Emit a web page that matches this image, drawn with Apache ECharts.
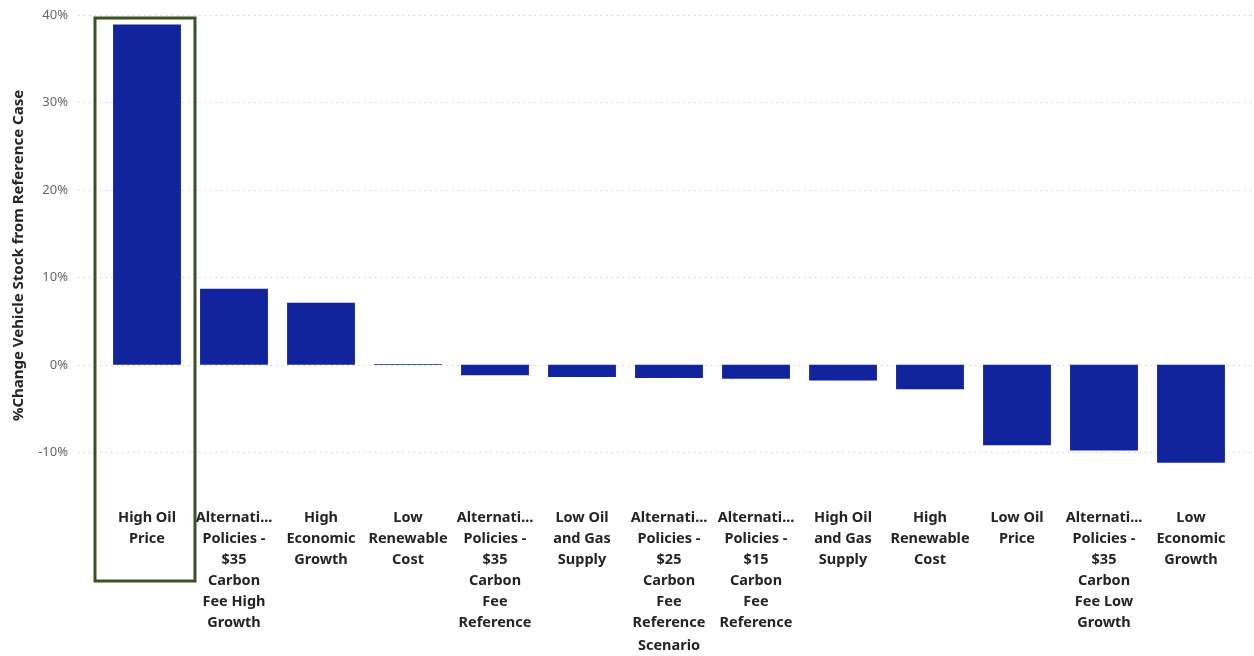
<!DOCTYPE html>
<html>
<head>
<meta charset="utf-8">
<script src="https://cdn.jsdelivr.net/npm/echarts@6/dist/echarts.min.js"></script>
<style>
  html, body { margin: 0; padding: 0; background: #fff; }
  #chart { width: 1254px; height: 656px; }
</style>
</head>
<body>
<div id="chart"></div>
<script>
// Scenario labels as they are shown (wrapped / truncated like the original)
const scenarios = [
  'High Oil\nPrice',
  'Alternati...\nPolicies -\n$35\nCarbon\nFee High\nGrowth',
  'High\nEconomic\nGrowth',
  'Low\nRenewable\nCost',
  'Alternati...\nPolicies -\n$35\nCarbon\nFee\nReference',
  'Low Oil\nand Gas\nSupply',
  'Alternati...\nPolicies -\n$25\nCarbon\nFee\nReference',
  'Alternati...\nPolicies -\n$15\nCarbon\nFee\nReference',
  'High Oil\nand Gas\nSupply',
  'High\nRenewable\nCost',
  'Low Oil\nPrice',
  'Alternati...\nPolicies -\n$35\nCarbon\nFee Low\nGrowth',
  'Low\nEconomic\nGrowth'
];

// % change in vehicle stock vs. reference case
const pctChange = [38.9, 8.7, 7.1, 0.1, -1.2, -1.4, -1.5, -1.6, -1.8, -2.8, -9.2, -9.8, -11.2];

const yMin = -15;
const yMax = 40;
const highlightIndex = 0;

const BAR = '#12239E';
const FONT = '"Noto Sans", "Open Sans", sans-serif';

const chart = echarts.init(document.getElementById('chart'), null, { renderer: 'canvas' });

const option = {
  animation: false,
  backgroundColor: '#fff',
  grid: [
    // bars
    { left: 103.5, right: 19.5, top: 15, bottom: 160, outerBoundsMode: 'none' },
    // wider grid used only for gridlines + y labels (they start left of the bars)
    { left: 78, right: 0, top: 15, bottom: 160, outerBoundsMode: 'none' }
  ],
  xAxis: [
    {
      type: 'category', gridIndex: 0, data: scenarios,
      axisLine: { show: false }, axisTick: { show: false },
      axisLabel: {
        interval: 0, margin: 11, color: '#252423',
        fontFamily: FONT, fontWeight: 'bold', fontSize: 14.5, lineHeight: 21
      },
      name: 'Scenario', nameLocation: 'middle', nameGap: 142,
      nameTextStyle: { color: '#252423', fontFamily: FONT, fontWeight: 'bold', fontSize: 14.5 }
    },
    { type: 'value', gridIndex: 1, show: false, min: 0, max: 1 }
  ],
  yAxis: [
    { type: 'value', gridIndex: 0, min: yMin, max: yMax, show: false },
    {
      type: 'value', gridIndex: 1, min: yMin, max: yMax, splitNumber: 5,
      axisLine: { show: false }, axisTick: { show: false },
      axisLabel: {
        showMinLabel: false, margin: 10, color: '#666666',
        fontFamily: FONT, fontSize: 13, formatter: v => v + '%'
      },
      splitLine: {
        showMinLine: false,
        lineStyle: { color: '#CDCDCD', type: [1.5, 4], width: 1.2 }
      },
      name: '%Change Vehicle Stock from Reference Case',
      nameLocation: 'middle', nameGap: 52,
      nameTextStyle: { color: '#252423', fontFamily: FONT, fontWeight: 'bold', fontSize: 15 }
    }
  ],
  series: [
    {
      type: 'bar', xAxisIndex: 0, yAxisIndex: 0,
      data: pctChange,
      barCategoryGap: '22%',
      itemStyle: { color: BAR }
    }
  ]
};

chart.setOption(option);

// green highlight frame around the selected scenario
const cx = chart.convertToPixel({ xAxisIndex: 0 }, highlightIndex);
const yTop = chart.convertToPixel({ yAxisIndex: 0 }, yMax);
chart.setOption({
  graphic: [{
    type: 'rect',
    shape: { x: cx - 52, y: yTop + 3, width: 100, height: 563 },
    style: { fill: 'none', stroke: '#3B5323', lineWidth: 3 },
    z: 100
  }]
});
</script>
</body>
</html>
